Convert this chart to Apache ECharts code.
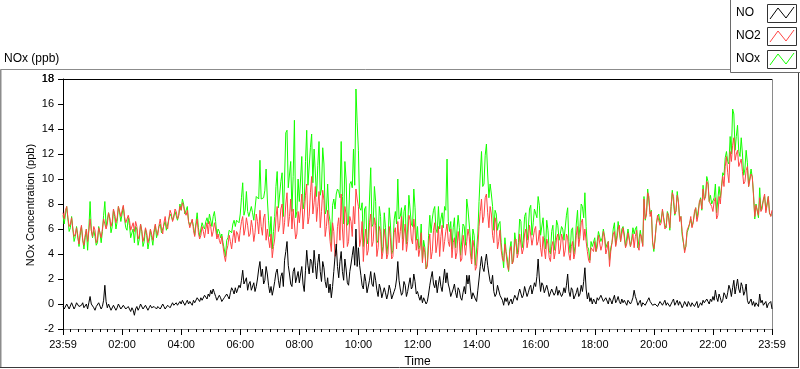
<!DOCTYPE html>
<html>
<head>
<meta charset="utf-8">
<script src="https://cdn.jsdelivr.net/npm/echarts@6/dist/echarts.min.js"></script>
<style>
html,body{margin:0;padding:0;background:#fff;}
#c{width:800px;height:369px;}
</style>
</head>
<body>
<div id="c"></div>
<script>
// samples every 5 minutes from 00:00 to 24:00, plus readings half-way between them
const stepMinutes = 5;
const tickLabels = ['23:59','02:00','04:00','06:00','08:00','10:00','12:00','14:00','16:00','18:00','20:00','22:00','23:59'];
const seriesNames = ['NO','NO2','NOx'];
const yMin = -2, yMax = 18, yStep = 2;

const NO = [
-0.2,-0.3,-0.1,-0.3,0.0,-0.2,0.2,-0.3,0.1,-0.2,-0.4,0.6,
-0.1,-0.5,-0.3,0.0,-0.2,1.5,-0.3,-0.1,-0.4,-0.2,-0.3,-0.1,
-0.3,-0.2,-0.5,-0.4,-0.3,-0.9,-0.2,-0.3,-0.1,-0.4,-0.2,-0.3,
-0.3,-0.2,-0.4,-0.1,-0.3,-0.2,-0.3,0.0,-0.2,-0.1,0.1,0.0,
0.0,0.2,0.1,0.0,0.1,0.3,0.2,0.4,0.5,0.4,0.6,0.8,
1.1,1.2,0.6,0.4,0.5,0.3,0.4,0.6,0.9,1.1,1.3,1.0,
1.3,2.7,1.5,1.1,1.8,1.2,1.0,2.0,3.4,2.8,1.9,2.4,
0.9,0.7,1.8,2.8,1.3,2.5,3.5,5.0,2.4,1.4,2.9,1.8,
1.7,3.0,1.0,4.3,2.4,3.4,4.3,2.0,4.0,1.8,2.9,1.3,
0.9,0.5,2.6,4.8,2.1,4.2,1.9,2.8,1.5,3.2,4.6,6.0,
4.5,2.3,1.2,1.8,1.0,2.6,1.4,1.9,0.6,1.2,0.4,0.9,
0.8,1.1,0.5,1.3,3.4,1.2,0.9,1.5,1.0,2.1,1.4,1.8,
1.0,0.3,0.1,0.4,0.2,1.5,2.6,1.3,0.9,2.2,1.0,2.8,
2.5,1.2,0.7,1.6,0.5,1.1,0.3,1.4,2.3,2.3,0.4,1.0,
0.2,2.0,3.8,2.6,4.0,2.4,1.6,1.0,0.8,1.4,0.6,-0.1,
0.2,-0.1,0.4,0.1,0.6,0.8,1.1,0.7,1.3,0.9,1.5,1.2,
1.4,3.6,1.0,1.5,0.8,1.1,0.6,1.3,0.9,0.7,1.2,0.8,
0.9,2.4,0.6,1.1,0.5,1.3,0.8,1.0,2.9,0.4,0.2,0.0,
0.3,0.5,0.2,0.6,0.1,0.4,0.5,0.0,0.7,0.3,0.2,0.4,
0.3,-0.1,0.4,0.2,1.1,0.3,0.1,-0.2,0.2,0.0,0.5,0.1,
-0.2,0.1,0.0,0.3,0.1,-0.1,0.2,0.0,0.4,0.1,-0.1,0.0,
-0.1,0.0,0.2,-0.2,0.1,0.0,-0.3,0.1,0.3,0.0,0.2,0.4,
0.6,1.1,0.2,0.5,0.3,0.7,0.9,1.2,1.3,0.8,2.0,0.9,
1.4,1.0,0.3,0.0,-0.1,-0.2,0.1,0.8,0.3,-0.2,-0.3,-0.1,-0.4
];
const NO_mid = [
-0.4,0.0,-0.4,0.1,-0.4,0.1,-0.2,-0.1,-0.3,0.0,0.1,0.0,
-0.3,-0.2,0.1,-0.4,0.3,0.2,0.0,-0.5,-0.1,-0.5,0.0,-0.4,
-0.1,-0.4,-0.2,-0.6,-0.5,-0.4,-0.5,0.0,-0.4,-0.1,-0.5,-0.1,
-0.4,-0.1,-0.2,-0.4,0.0,-0.4,-0.1,-0.3,0.1,-0.2,-0.1,0.2,
0.3,-0.1,0.3,0.2,-0.1,0.1,0.5,0.2,0.3,0.7,0.4,0.6,
0.8,0.9,0.3,0.7,0.2,0.5,0.8,0.4,1.3,0.8,0.9,1.5,
1.9,1.6,2.1,1.6,1.1,1.7,1.4,2.8,2.2,1.6,3.0,1.5,
1.4,1.2,2.5,1.9,2.2,1.4,4.2,3.1,1.6,2.6,1.7,2.6,
2.4,1.6,2.7,3.1,3.6,2.5,3.1,3.3,2.6,3.4,1.8,2.1,
1.6,1.4,3.8,3.0,3.4,2.6,3.6,1.7,2.6,3.9,3.1,3.0,
3.1,1.5,2.4,0.9,1.9,1.6,2.5,1.1,1.6,0.5,1.3,0.4,
1.5,0.4,1.0,2.0,1.9,0.7,1.8,0.6,1.6,1.2,2.4,0.8,
0.6,0.7,0.5,0.0,0.8,2.1,1.6,1.9,1.6,1.4,1.9,1.7,
1.6,0.6,1.2,0.9,1.3,0.5,0.9,0.8,1.6,1.2,0.9,0.4,
1.1,3.0,2.9,3.4,3.1,1.8,2.3,0.6,1.5,0.7,0.3,0.5,
0.5,0.2,0.0,0.7,0.3,1.2,0.5,1.4,0.6,1.3,0.8,1.7,
2.2,2.0,1.7,0.9,1.5,0.6,1.2,0.7,1.4,1.1,0.6,1.3,
1.5,1.0,1.3,0.4,0.9,0.6,1.5,1.8,1.2,0.9,0.5,0.4,
0.0,0.3,0.7,0.2,0.5,0.0,0.3,0.4,0.1,0.6,0.0,0.1,
0.1,0.3,0.0,0.5,0.6,-0.1,0.3,0.1,-0.1,0.3,0.2,-0.1,
0.0,-0.2,0.2,-0.1,0.3,0.1,-0.2,0.2,-0.1,0.3,0.2,-0.3,
0.2,-0.2,0.0,0.1,-0.2,0.2,-0.1,-0.1,0.1,0.4,0.0,0.2,
0.3,0.5,0.8,0.1,0.9,0.4,1.5,0.6,1.9,1.4,1.2,1.7,
0.7,1.6,0.0,0.4,0.2,0.1,-0.2,0.1,-0.1,0.2,0.0,0.2
];

const NO2 = [
7.3,7.5,6.9,6.4,6.0,5.6,5.3,5.8,5.1,5.5,5.0,6.8,
5.4,5.9,5.2,5.7,6.0,6.7,6.4,6.9,6.6,7.2,6.9,7.4,
7.5,7.0,6.4,6.7,6.0,5.8,6.2,5.5,5.9,5.4,5.7,5.3,
5.6,5.9,5.7,6.3,6.0,6.5,6.2,6.8,7.2,6.9,7.4,7.1,
7.5,7.8,7.1,6.6,6.2,5.9,6.3,5.7,5.5,5.8,6.0,5.6,
6.2,5.8,6.0,5.6,4.8,4.6,3.4,4.7,5.0,5.3,4.9,5.6,
5.9,7.0,6.0,6.3,5.6,6.1,5.7,6.6,7.5,5.5,7.2,6.0,
4.5,3.7,5.2,7.8,6.3,8.0,6.5,8.9,7.0,6.0,7.5,5.6,
6.5,8.8,7.2,9.6,7.0,10.2,8.1,6.6,9.0,7.4,8.3,6.2,
6.3,4.2,5.8,4.0,6.9,8.8,4.5,7.2,5.0,6.6,7.8,9.2,
7.8,5.2,3.4,6.0,4.3,7.2,5.0,6.3,4.5,5.8,4.2,5.2,
4.0,5.3,3.8,6.1,6.6,5.8,4.3,6.4,5.0,6.7,4.8,5.9,
5.2,4.4,3.3,4.1,3.0,5.6,4.2,6.5,4.8,3.8,6.3,5.0,
6.4,4.6,3.7,5.3,4.1,5.0,3.6,4.8,5.0,5.4,3.2,4.5,
3.0,6.2,8.4,7.0,8.8,6.1,7.2,4.9,6.4,5.0,4.3,3.4,
4.0,2.7,4.6,3.5,5.2,4.1,5.5,4.4,6.0,5.1,6.4,5.3,
6.2,5.0,4.5,5.4,3.6,4.8,3.4,5.0,4.2,5.6,4.4,5.2,
4.3,5.3,3.5,5.0,4.1,6.2,5.4,6.8,6.0,4.2,3.3,4.6,
5.0,4.5,5.6,4.7,5.3,4.4,3.0,4.9,5.8,5.2,6.3,5.6,
5.3,4.8,5.6,5.0,4.5,5.9,4.3,5.4,8.4,7.2,8.6,7.4,
4.4,6.3,7.2,6.5,7.5,6.2,6.9,7.8,8.6,7.4,8.2,7.0,
5.0,4.6,5.8,7.0,6.5,7.7,7.1,8.4,9.2,8.6,9.6,8.3,
7.4,8.5,7.1,8.0,10.2,11.0,10.5,12.2,12.7,11.5,12.3,10.9,
10.6,9.8,11.0,9.5,10.2,7.0,7.8,8.5,7.6,8.8,7.9,7.3,7.5
];
const NO2_mid = [
6.8,7.8,6.2,6.9,5.4,6.1,4.8,6.3,4.7,6.0,5.9,5.9,
6.2,4.9,6.1,5.3,6.8,6.0,7.3,6.2,7.6,6.5,7.8,7.0,
7.9,6.5,7.1,5.9,6.5,6.6,5.2,6.4,5.0,6.1,4.9,6.0,
5.1,6.4,5.5,6.8,5.6,7.0,6.0,7.5,6.6,7.6,6.8,7.8,
8.1,7.3,7.5,6.1,6.8,5.4,6.8,5.2,6.2,5.3,6.5,6.6,
5.4,6.5,5.2,5.1,5.4,3.9,4.3,5.5,4.4,5.9,5.8,5.0,
6.6,5.5,6.9,5.4,6.7,5.0,7.2,5.6,6.2,6.9,5.1,5.2,
5.6,4.6,6.9,5.8,7.6,5.6,8.0,6.2,8.4,7.6,5.2,7.4,
7.6,6.0,8.7,6.4,8.9,7.2,9.4,7.8,6.1,9.1,5.4,7.5,
5.0,6.5,3.8,6.2,5.1,6.0,7.8,4.6,7.0,5.4,6.4,8.4,
4.6,6.6,5.2,3.9,6.5,4.6,6.9,3.8,6.2,3.6,6.0,3.6,
6.2,3.6,5.7,4.4,4.9,7.0,5.6,4.2,7.1,5.2,6.8,4.3,
3.8,5.7,4.6,2.8,4.7,3.6,5.9,4.1,6.2,5.4,4.2,5.8,
5.0,6.0,4.9,3.6,5.8,3.4,5.5,3.9,6.0,4.0,5.1,2.7,
4.5,7.4,6.5,8.5,7.3,7.8,5.5,6.9,4.4,5.9,3.6,4.8,
3.1,4.2,3.2,5.0,3.7,5.6,4.0,5.6,4.5,6.3,4.7,5.9,
4.7,5.9,3.8,4.4,5.2,3.7,4.6,3.6,5.3,4.0,5.6,3.8,
5.6,4.0,4.6,3.6,5.5,4.6,6.5,5.1,5.0,3.5,4.5,4.2,
4.2,5.5,4.3,5.8,4.0,5.0,4.2,5.6,4.6,6.0,5.0,6.1,
4.5,5.7,4.6,5.6,5.4,4.6,5.6,4.6,6.8,8.9,7.0,5.0,
5.2,7.1,6.3,7.6,6.0,7.3,6.1,8.9,7.2,8.7,6.6,5.8,
4.1,5.9,6.4,6.1,7.4,6.6,8.2,7.6,8.3,9.8,8.2,7.8,
8.2,6.8,8.6,9.3,9.4,11.8,9.7,11.4,13.3,12.0,11.0,11.6,
9.6,10.7,9.4,10.4,8.6,7.9,7.1,7.4,8.4,7.3,8.6,7.0
];

const NOx = [
7.1,7.2,6.8,6.1,6.0,5.4,5.5,5.5,5.2,5.3,4.3,8.2,
5.3,5.4,4.9,5.7,5.8,8.2,6.1,6.8,6.2,7.0,6.6,7.3,
7.2,6.8,5.9,6.3,5.7,4.9,6.0,5.2,5.8,5.0,5.5,5.0,
5.3,5.7,5.3,6.2,5.7,6.3,5.9,6.8,7.0,6.8,7.5,7.1,
7.5,8.0,7.2,6.6,6.3,6.2,6.5,6.1,6.0,6.2,6.6,6.4,
7.3,7.0,6.6,6.0,5.3,4.9,3.8,5.3,5.9,6.4,6.2,6.6,
7.2,9.7,7.5,7.4,7.4,7.3,6.7,8.6,11.5,8.3,9.1,8.4,
5.4,4.4,7.0,10.6,7.6,10.5,10.0,13.9,9.4,7.4,14.7,7.4,
8.2,11.8,8.2,13.9,9.4,13.6,12.4,8.6,13.0,9.2,11.2,7.5,
7.2,4.7,8.4,8.8,9.0,13.0,6.4,10.0,6.5,9.8,12.4,17.2,
12.3,7.5,4.6,7.8,5.3,10.9,6.4,8.2,5.1,7.0,4.6,6.1,
4.8,6.4,4.3,7.4,10.0,7.0,5.2,7.9,6.0,8.8,6.2,7.7,
6.2,4.7,3.4,4.5,3.2,7.1,6.8,7.8,5.7,6.0,7.3,7.8,
11.6,5.8,4.4,6.9,4.6,6.1,3.9,6.2,8.4,7.7,3.6,5.5,
3.2,8.2,12.2,9.6,12.8,8.5,8.8,5.9,7.2,6.4,4.9,2.9,
4.2,2.6,5.0,3.6,5.8,4.9,6.6,5.1,7.3,6.0,7.9,6.5,
7.6,8.6,5.5,6.9,4.4,5.9,4.0,6.3,5.1,6.3,5.6,6.0,
5.2,7.7,4.1,6.1,4.6,7.5,6.2,7.8,8.9,4.6,3.5,4.6,
5.3,5.0,5.8,5.3,5.4,4.8,3.5,4.9,6.5,5.5,6.5,6.0,
5.6,4.7,6.0,5.2,5.6,6.2,4.4,5.2,8.6,7.2,9.1,7.5,
4.2,6.4,7.2,6.8,7.6,6.1,7.1,7.8,9.0,7.5,8.1,7.0,
4.9,4.6,6.0,6.8,6.6,7.7,6.8,8.5,9.5,8.6,9.8,8.7,
8.0,9.6,7.3,8.5,10.5,11.7,11.4,13.4,15.6,12.3,14.3,11.8,
12.0,10.8,11.3,9.5,10.1,6.8,7.9,9.3,7.9,8.6,7.6,7.2,7.1
];
const NOx_mid = [
6.4,7.8,5.8,7.0,5.0,6.2,4.6,6.2,4.4,6.0,6.0,5.9,
5.9,4.7,6.2,4.9,7.1,6.2,7.3,5.7,7.5,6.0,7.8,6.6,
7.8,6.1,6.9,5.3,6.0,6.2,4.7,6.4,4.6,6.0,4.4,5.9,
4.7,6.3,5.3,6.4,5.6,6.6,5.9,7.2,6.7,7.4,6.7,8.0,
8.4,7.2,7.8,6.3,6.7,5.5,7.3,5.4,6.5,6.0,6.9,7.2,
6.2,7.4,5.5,5.8,5.6,4.4,5.1,5.9,5.7,6.7,6.7,6.5,
8.5,7.1,9.0,7.0,7.8,6.7,8.6,8.4,8.4,8.5,10.8,6.7,
7.0,5.8,9.4,7.7,9.8,7.0,13.7,9.3,11.4,10.2,6.9,10.0,
10.0,7.6,11.4,9.5,12.5,9.7,12.5,11.1,8.7,12.5,7.2,9.6,
6.6,7.9,7.6,9.2,8.5,8.6,11.4,6.3,9.6,9.3,9.5,14.5,
7.7,8.1,7.6,4.8,8.4,6.2,9.4,4.9,7.8,4.1,7.3,4.0,
7.7,4.0,6.7,6.4,6.8,7.7,7.4,4.8,8.7,6.4,9.2,5.1,
4.4,6.4,5.1,2.8,5.5,5.7,7.5,6.0,7.8,6.8,6.1,7.5,
6.6,6.6,6.1,4.5,7.1,3.9,6.4,4.7,7.6,5.2,6.0,3.1,
5.6,10.4,9.4,11.9,10.4,9.6,7.8,7.5,5.9,6.6,3.9,5.3,
3.6,4.4,3.2,5.7,4.0,6.8,4.5,7.0,5.1,7.6,5.5,7.6,
6.9,7.9,5.5,5.3,6.7,4.3,5.8,4.3,6.7,5.1,6.2,5.1,
7.1,5.0,5.9,4.0,6.4,5.2,8.0,6.9,6.2,4.4,5.0,4.6,
4.2,5.8,5.0,6.0,4.5,5.0,4.5,6.0,4.7,6.6,5.0,6.2,
4.6,6.0,4.6,6.1,6.0,4.5,5.9,4.7,6.7,9.2,7.2,4.9,
5.2,6.9,6.5,7.5,6.3,7.4,5.9,9.1,7.1,9.0,6.8,5.5,
4.3,5.7,6.4,6.2,7.2,6.8,8.1,7.5,8.4,10.2,8.2,8.0,
8.5,7.3,9.4,9.4,10.3,12.2,11.2,12.0,15.2,13.4,12.2,13.3,
10.3,12.3,9.4,10.8,8.8,8.0,6.9,7.5,8.3,7.5,8.6,7.2
];

// interleave the 5-minute readings with the half-way readings
function toXY(main, mid) {
  const out = [];
  for (let i = 0; i < main.length; i++) {
    out.push([i * stepMinutes, main[i]]);
    if (i < mid.length) out.push([i * stepMinutes + stepMinutes / 2, mid[i]]);
  }
  return out;
}

const colors = {NO: '#000000', NO2: '#ff4444', NOx: '#14ff00'};
const font = 'Liberation Sans';

const chart = echarts.init(document.getElementById('c'), null, {renderer: 'canvas'});

const legendGraphics = [];
seriesNames.forEach((name, k) => {
  const top = 4 + k * 23;
  legendGraphics.push({
    type: 'text', left: 736, top: top + 3,
    style: {text: name, font: '12px ' + font, fill: '#000'}
  });
  legendGraphics.push({
    type: 'rect', shape: {x: 767.5, y: top + 0.5, width: 29, height: 18},
    style: {fill: '#fff', stroke: '#333', lineWidth: 1}
  });
  legendGraphics.push({
    type: 'polyline',
    shape: {points: [[770, top + 15], [778, top + 4], [786, top + 14], [794, top + 3]]},
    style: {stroke: colors[name], lineWidth: 1, fill: null}
  });
});

const option = {
  animation: false,
  backgroundColor: '#fff',
  grid: {left: 63, top: 79, right: 28, bottom: 40, containLabel: false, outerBoundsMode: 'none'},
  xAxis: {
    type: 'value', min: 0, max: 1440, interval: 120,
    name: 'Time', nameLocation: 'middle', nameGap: 27,
    nameTextStyle: {fontFamily: font, fontSize: 12, color: '#000'},
    axisLine: {show: true, onZero: false, lineStyle: {color: '#8a8a8a', width: 1}},
    axisTick: {show: true, length: 6, lineStyle: {color: '#000'}},
    minorTick: {show: true, splitNumber: 8, length: 3, lineStyle: {color: '#000'}},
    splitLine: {show: false},
    axisLabel: {
      margin: 10, fontFamily: font, fontSize: 11, color: '#000',
      showMinLabel: true, showMaxLabel: true,
      formatter: v => tickLabels[Math.round(v / 120)]
    }
  },
  yAxis: {
    type: 'value', min: yMin, max: yMax, interval: yStep,
    axisLine: {show: true, onZero: false, lineStyle: {color: '#000', width: 1}},
    axisTick: {show: true, length: 5, lineStyle: {color: '#000'}},
    splitLine: {show: false},
    axisLabel: {margin: 9, fontFamily: font, fontSize: 11, color: '#000', showMinLabel: true, showMaxLabel: true}
  },
  graphic: [
    {type: 'line', shape: {x1: 0.5, y1: 69.5, x2: 731, y2: 69.5}, style: {stroke: '#8c8c8c', lineWidth: 1}},
    {type: 'line', shape: {x1: 0.5, y1: 69.5, x2: 0.5, y2: 368}, style: {stroke: '#8c8c8c', lineWidth: 2}},
    {type: 'line', shape: {x1: 0, y1: 367.5, x2: 799, y2: 367.5}, style: {stroke: '#3a3a3a', lineWidth: 1}},
    {type: 'line', shape: {x1: 798.5, y1: 72, x2: 798.5, y2: 368}, style: {stroke: '#3a3a3a', lineWidth: 1}},
    {type: 'line', shape: {x1: 63, y1: 79.5, x2: 773, y2: 79.5}, style: {stroke: '#000', lineWidth: 1}},
    {type: 'line', shape: {x1: 772.5, y1: 79, x2: 772.5, y2: 330}, style: {stroke: '#8a8a8a', lineWidth: 1}},
    {type: 'text', left: 4, top: 53, style: {text: 'NOx (ppb)', font: '12px ' + font, fill: '#000'}},
    {type: 'text', x: 31, y: 205, rotation: Math.PI / 2,
     style: {text: 'NOx Concentration (ppb)', font: '11px ' + font, fill: '#000', align: 'center', verticalAlign: 'middle', textAlign: 'center', textVerticalAlign: 'middle'}},
    {type: 'rect', shape: {x: 730.5, y: -1, width: 70, height: 73.5}, style: {fill: '#fff', stroke: '#6a6a6a', lineWidth: 1}}
  ].concat(legendGraphics),
  series: [
    {name: 'NOx', type: 'line', data: toXY(NOx, NOx_mid), showSymbol: false, symbol: 'none', z: 2,
     lineStyle: {color: colors.NOx, width: 1}, itemStyle: {color: colors.NOx}},
    {name: 'NO2', type: 'line', data: toXY(NO2, NO2_mid), showSymbol: false, symbol: 'none', z: 3,
     lineStyle: {color: colors.NO2, width: 1}, itemStyle: {color: colors.NO2}},
    {name: 'NO', type: 'line', data: toXY(NO, NO_mid), showSymbol: false, symbol: 'none', z: 4,
     lineStyle: {color: colors.NO, width: 1}, itemStyle: {color: colors.NO}}
  ]
};
chart.setOption(option);

// the top y tick label is dropped by the automatic label layout here; draw it on its own layer,
// placed through the axis scale
try {
  const zr = chart.getZr();
  const py = chart.convertToPixel({yAxisIndex: 0}, yMax);
  zr.add(new echarts.graphic.Text({
    zlevel: 10, z: 100,
    style: {text: String(yMax), x: 63 - 9, y: py, align: 'right', verticalAlign: 'middle', font: '11px ' + font, fill: '#000'}
  }));
} catch (e) {}
</script>
</body>
</html>
